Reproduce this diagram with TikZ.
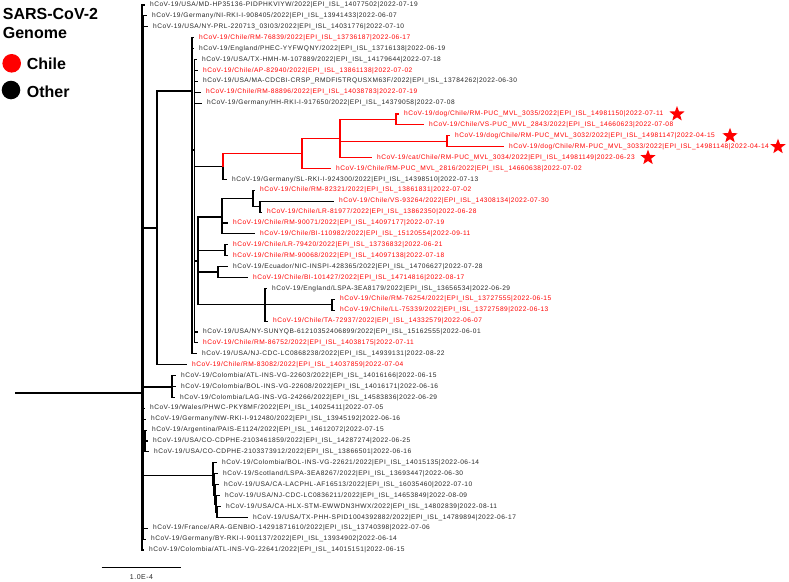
\documentclass[tikz,border=0pt]{standalone}
\usepackage{fontspec}
\setmainfont{Liberation Sans}
\newfontfamily\leaffont{Liberation Sans}[LetterSpace=7]
\usetikzlibrary{shapes.geometric}
\definecolor{cred}{RGB}{255,0,0}
\begin{document}
\begin{tikzpicture}[x=1pt,y=-1pt,
  br/.style={line width=1.1pt,black},
  rb/.style={line width=1.1pt,cred},
  lf/.style={anchor=west,inner xsep=5pt,inner ysep=0pt,font=\leaffont\fontsize{6.6}{7}\selectfont,text=black!85},
  lfr/.style={lf,text=cred},
  starm/.style={star,star points=5,star point ratio=2.4,fill=cred,draw=none,minimum size=16pt,inner sep=0pt},
  leg/.style={anchor=west,inner sep=0pt,font=\bfseries\fontsize{16}{19}\selectfont},
  dotm/.style={circle,minimum size=18.6pt,inner sep=0pt,draw=none}]
\useasboundingbox (0,0) rectangle (789,581);

% legend
\node[leg] (t1) at (2.7,14) {SARS-CoV-2};
\node[leg] (t2) at (2.7,33) {Genome};
\node[dotm,fill=cred] (d1) at (11.7,63.3) {};
\node[leg] (t3) at (26.7,63.8) {Chile};
\node[dotm,fill=black] (d2) at (11,90) {};
\node[leg] (t4) at (26.7,91.3) {Other};

% internal nodes
\coordinate (root) at (15,393);
\coordinate (R) at (142,393);
\coordinate (R1) at (143.6,393);
\coordinate (R2) at (145,441);
\coordinate (M) at (157,228);
\coordinate (N) at (192,91);
\coordinate (N2) at (194.5,150);
\coordinate (C0) at (223,166.5);
\coordinate (C1) at (302,153.5);
\coordinate (C2) at (340,138.5);
\coordinate (A) at (396,119.45);
\coordinate (D) at (447,141.25);
\coordinate (S) at (198,261);
\coordinate (W) at (222,217);
\coordinate (E) at (253,198.5);
\coordinate (F) at (260,206.65);
\coordinate (U) at (225,250.25);
\coordinate (T) at (218,272);
\coordinate (G) at (265,304.75);
\coordinate (H) at (332,304.75);
\coordinate (K) at (172,387);
\coordinate (P) at (213,475.1);
\coordinate (P2) at (214,485.2);
\coordinate (P3) at (215,495.4);
\coordinate (P4) at (216,504.75);
\coordinate (P5) at (217,512.85);

% leaves
\node[lf]  (l0)  at (145,5)     {hCoV-19/USA/MD-HP35136-PIDPHKVIYW/2022|EPI\_ISL\_14077502|2022-07-19};
\node[lf]  (l1)  at (147,15.9)  {hCoV-19/Germany/NI-RKI-I-908405/2022|EPI\_ISL\_13941433|2022-06-07};
\node[lf]  (l2)  at (148,26.8)  {hCoV-19/USA/NY-PRL-220713\_03I03/2022|EPI\_ISL\_14031776|2022-07-10};
\node[lfr] (l3)  at (194,37.7)  {hCoV-19/Chile/RM-76839/2022|EPI\_ISL\_13736187|2022-06-17};
\node[lf]  (l4)  at (194,48.6)  {hCoV-19/England/PHEC-YYFWQNY/2022|EPI\_ISL\_13716138|2022-06-19};
\node[lf]  (l5)  at (197,59.5)  {hCoV-19/USA/TX-HMH-M-107889/2022|EPI\_ISL\_14179644|2022-07-18};
\node[lfr] (l6)  at (198,70.4)  {hCoV-19/Chile/AP-82940/2022|EPI\_ISL\_13861138|2022-07-02};
\node[lf]  (l7)  at (198,81.3)  {hCoV-19/USA/MA-CDCBI-CRSP\_RMDFI5TRQUSXM63F/2022|EPI\_ISL\_13784262|2022-06-30};
\node[lfr] (l8)  at (201,92.2)  {hCoV-19/Chile/RM-88896/2022|EPI\_ISL\_14038783|2022-07-19};
\node[lf]  (l9)  at (202,103.1) {hCoV-19/Germany/HH-RKI-I-917650/2022|EPI\_ISL\_14379058|2022-07-08};
\node[lfr] (l10) at (399,114)   {hCoV-19/dog/Chile/RM-PUC\_MVL\_3035/2022|EPI\_ISL\_14981150|2022-07-11};
\node[lfr] (l11) at (424,124.9) {hCoV-19/Chile/VS-PUC\_MVL\_2843/2022|EPI\_ISL\_14660623|2022-07-08};
\node[lfr] (l12) at (450,135.8) {hCoV-19/dog/Chile/RM-PUC\_MVL\_3032/2022|EPI\_ISL\_14981147|2022-04-15};
\node[lfr] (l13) at (504,146.7) {hCoV-19/dog/Chile/RM-PUC\_MVL\_3033/2022|EPI\_ISL\_14981148|2022-04-14};
\node[lfr] (l14) at (372,157.6) {hCoV-19/cat/Chile/RM-PUC\_MVL\_3034/2022|EPI\_ISL\_14981149|2022-06-23};
\node[lfr] (l15) at (331,168.5) {hCoV-19/Chile/RM-PUC\_MVL\_2816/2022|EPI\_ISL\_14660638|2022-07-02};
\node[lf]  (l16) at (227,179.4) {hCoV-19/Germany/SL-RKI-I-924300/2022|EPI\_ISL\_14398510|2022-07-13};
\node[lfr] (l17) at (255,190.3) {hCoV-19/Chile/RM-82321/2022|EPI\_ISL\_13861831|2022-07-02};
\node[lfr] (l18) at (334,201.2) {hCoV-19/Chile/VS-93264/2022|EPI\_ISL\_14308134|2022-07-30};
\node[lfr] (l19) at (262,212.1) {hCoV-19/Chile/LR-81977/2022|EPI\_ISL\_13862350|2022-06-28};
\node[lfr] (l20) at (228,223)   {hCoV-19/Chile/RM-90071/2022|EPI\_ISL\_14097177|2022-07-19};
\node[lfr] (l21) at (255,233.9) {hCoV-19/Chile/BI-110982/2022|EPI\_ISL\_15120554|2022-09-11};
\node[lfr] (l22) at (228,244.8) {hCoV-19/Chile/LR-79420/2022|EPI\_ISL\_13736832|2022-06-21};
\node[lfr] (l23) at (228,255.7) {hCoV-19/Chile/RM-90068/2022|EPI\_ISL\_14097138|2022-07-18};
\node[lf]  (l24) at (228,266.6) {hCoV-19/Ecuador/NIC-INSPI-428365/2022|EPI\_ISL\_14706627|2022-07-28};
\node[lfr] (l25) at (248,277.5) {hCoV-19/Chile/BI-101427/2022|EPI\_ISL\_14714816|2022-08-17};
\node[lf]  (l26) at (267,288.4) {hCoV-19/England/LSPA-3EA8179/2022|EPI\_ISL\_13656534|2022-06-29};
\node[lfr] (l27) at (335,299.3) {hCoV-19/Chile/RM-76254/2022|EPI\_ISL\_13727555|2022-06-15};
\node[lfr] (l28) at (335,310.2) {hCoV-19/Chile/LL-75339/2022|EPI\_ISL\_13727589|2022-06-13};
\node[lfr] (l29) at (268,321.1) {hCoV-19/Chile/TA-72937/2022|EPI\_ISL\_14332579|2022-06-07};
\node[lf]  (l30) at (198,332)   {hCoV-19/USA/NY-SUNYQB-61210352406899/2022|EPI\_ISL\_15162555|2022-06-01};
\node[lfr] (l31) at (198,342.9) {hCoV-19/Chile/RM-86752/2022|EPI\_ISL\_14038175|2022-07-11};
\node[lf]  (l32) at (197,353.8) {hCoV-19/USA/NJ-CDC-LC0868238/2022|EPI\_ISL\_14939131|2022-08-22};
\node[lfr] (l33) at (187,364.7) {hCoV-19/Chile/RM-83082/2022|EPI\_ISL\_14037859|2022-07-04};
\node[lf]  (l34) at (176,375.6) {hCoV-19/Colombia/ATL-INS-VG-22603/2022|EPI\_ISL\_14016166|2022-06-15};
\node[lf]  (l35) at (176,386.5) {hCoV-19/Colombia/BOL-INS-VG-22608/2022|EPI\_ISL\_14016171|2022-06-16};
\node[lf]  (l36) at (175,397.4) {hCoV-19/Colombia/LAG-INS-VG-24266/2022|EPI\_ISL\_14583836|2022-06-29};
\node[lf]  (l37) at (145,408.3) {hCoV-19/Wales/PHWC-PKY8MF/2022|EPI\_ISL\_14025411|2022-07-05};
\node[lf]  (l38) at (146,419.2) {hCoV-19/Germany/NW-RKI-I-912480/2022|EPI\_ISL\_13945192|2022-06-16};
\node[lf]  (l39) at (147,430.1) {hCoV-19/Argentina/PAIS-E1124/2022|EPI\_ISL\_14612072|2022-07-15};
\node[lf]  (l40) at (148,441)   {hCoV-19/USA/CO-CDPHE-2103461859/2022|EPI\_ISL\_14287274|2022-06-25};
\node[lf]  (l41) at (149,451.9) {hCoV-19/USA/CO-CDPHE-2103373912/2022|EPI\_ISL\_13866501|2022-06-16};
\node[lf]  (l42) at (217,462.8) {hCoV-19/Colombia/BOL-INS-VG-22621/2022|EPI\_ISL\_14015135|2022-06-14};
\node[lf]  (l43) at (218,473.7) {hCoV-19/Scotland/LSPA-3EA8267/2022|EPI\_ISL\_13693447|2022-06-30};
\node[lf]  (l44) at (219,484.6) {hCoV-19/USA/CA-LACPHL-AF16513/2022|EPI\_ISL\_16035460|2022-07-10};
\node[lf]  (l45) at (220,495.5) {hCoV-19/USA/NJ-CDC-LC0836211/2022|EPI\_ISL\_14653849|2022-08-09};
\node[lf]  (l46) at (221,506.4) {hCoV-19/USA/CA-HLX-STM-EWWDN3HWX/2022|EPI\_ISL\_14802839|2022-08-11};
\node[lf]  (l47) at (248,517.3) {hCoV-19/USA/TX-PHH-SPID1004392882/2022|EPI\_ISL\_14789894|2022-06-17};
\node[lf]  (l48) at (148,528.2) {hCoV-19/France/ARA-GENBIO-14291871610/2022|EPI\_ISL\_13740398|2022-07-06};
\node[lf]  (l49) at (146,539.1) {hCoV-19/Germany/BY-RKI-I-901137/2022|EPI\_ISL\_13934902|2022-06-14};
\node[lf]  (l50) at (144,550)   {hCoV-19/Colombia/ATL-INS-VG-22641/2022|EPI\_ISL\_14015151|2022-06-15};

% stars
\node[starm] (s10) at (677,114) {};
\node[starm] (s12) at (730,135.8) {};
\node[starm] (s13) at (778,146.7) {};
\node[starm] (s14) at (648,157.6) {};

% black branches
\draw[br] (root) -- (R);
\foreach \p/\c in {R/l0.west,R/R1,R/l50.west,
  R1/l1.west,R1/l2.west,R1/M,R1/K,R1/l37.west,R1/l38.west,R1/R2,R1/P,R1/l48.west,R1/l49.west,
  R2/l39.west,R2/l40.west,R2/l41.west,
  M/N,M/l33.west,
  N/l3.west,N/l4.west,N/N2,N/l32.west,
  N2/l5.west,N2/l6.west,N2/l7.west,N2/l8.west,N2/l9.west,N2/C0,N2/S,N2/l30.west,N2/l31.west,
  C0/l16.west,
  S/W,S/U,S/T,S/G,
  W/E,W/l20.west,W/l21.west,
  E/l17.west,E/F,F/l18.west,F/l19.west,
  U/l22.west,U/l23.west,
  T/l24.west,T/l25.west,
  G/l26.west,G/H,G/l29.west,
  H/l27.west,H/l28.west,
  K/l34.west,K/l35.west,K/l36.west,
  P/l42.west,P/P2,P2/l43.west,P2/P3,P3/l44.west,P3/P4,P4/l45.west,P4/P5,P5/l46.west,P5/l47.west}
  \draw[br] (\p) |- (\c);

% red branches
\foreach \p/\c in {C0/C1,C1/C2,C1/l15.west,C2/A,C2/D,C2/l14.west,A/l10.west,A/l11.west,D/l12.west,D/l13.west}
  \draw[rb] (\p) |- (\c);

% scale bar
\coordinate (sb1) at (101.7,567.7);
\coordinate (sb2) at (181,567.7);
\draw[br] (sb1) -- (sb2);
\node[font=\leaffont\fontsize{7}{8}\selectfont,text=black!85,inner sep=0pt] (sbl) at (141.5,577) {1.0E-4};
\end{tikzpicture}
\end{document}
